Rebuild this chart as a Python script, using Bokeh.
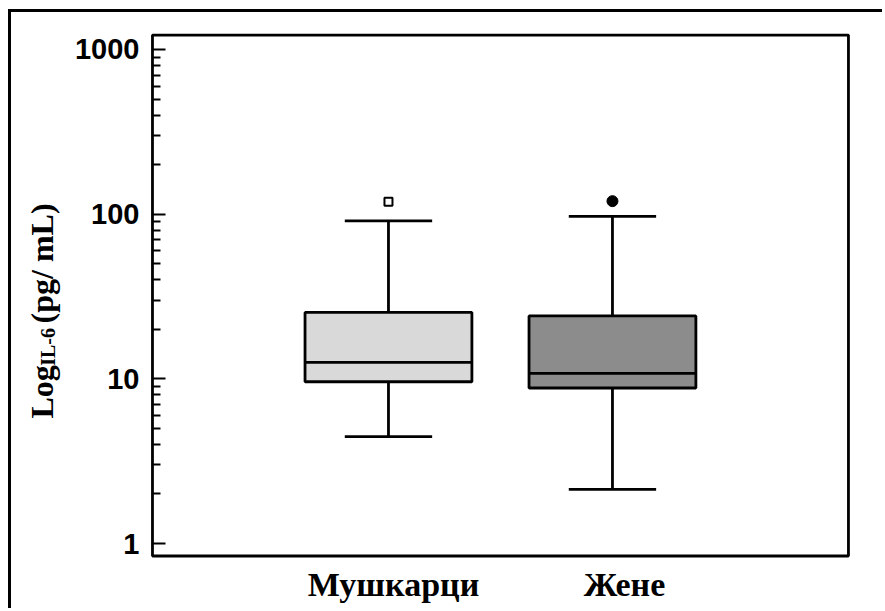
from bokeh.plotting import figure
from bokeh.models import (Range1d, FixedTicker, NumeralTickFormatter, Label,
                          ColumnDataSource, LogAxis, BoxAnnotation)
from bokeh.embed import file_html
from bokeh.resources import INLINE
import math

# ---- data ----
categories = ["Мушкарци", "Жене"]
positions = [1, 2]
q1 = [9.6, 8.8]
median = [12.6, 10.8]
q3 = [25.3, 24.1]
whisker_low = [4.46, 2.13]
whisker_high = [91.0, 97.0]
outlier_values = [119.0, 120.0]
box_colors = ["#d9d9d9", "#8c8c8c"]
y_major_ticks = [1, 10, 100, 1000]
y_minor_ticks = [2, 3, 4, 5, 6, 7, 8, 9, 20, 30, 40, 50, 60, 70, 80, 90,
                 200, 300, 400, 500, 600, 700, 800, 900]

# ---- layout constants ----
BOX_W = 0.745
CAP_W = 0.39
LW = 2.8
# canvas extent in data units (whole canvas is the frame)
X_MIN, X_MAX = -0.683, 3.219
Y_MIN, Y_MAX = 0.3865, 1677.6
# inner plot box in data units
BX0, BX1 = -0.0536, 3.0536
BY0, BY1 = 0.8396, 1224.0

p = figure(width=874, height=599, y_axis_type="log",
           x_range=Range1d(X_MIN, X_MAX), y_range=Range1d(Y_MIN, Y_MAX),
           x_axis_location=None, y_axis_location=None,
           output_backend="svg", toolbar_location=None, min_border=0)
p.styles = {"margin-left": "8px", "margin-top": "9px",
            "border-left": "3px solid black", "border-top": "3px solid black"}
p.background_fill_color = "white"
p.border_fill_color = "white"
p.outline_line_color = None
p.grid.visible = False

# inner plot box
p.add_layout(BoxAnnotation(left=BX0, right=BX1, bottom=BY0, top=BY1,
                           fill_alpha=0, line_color="black", line_width=LW, line_alpha=1))

ax = LogAxis(fixed_location=BX0)
ax.ticker = FixedTicker(ticks=y_major_ticks, minor_ticks=y_minor_ticks)
ax.formatter = NumeralTickFormatter(format="0")
ax.axis_line_color = None
ax.major_tick_in = 13
ax.major_tick_out = 0
ax.minor_tick_in = 8
ax.minor_tick_out = 0
ax.major_tick_line_width = 2
ax.minor_tick_line_width = 2
ax.major_tick_line_color = "black"
ax.minor_tick_line_color = "black"
ax.major_label_standoff = 13
ax.major_label_text_font = "Liberation Sans"
ax.major_label_text_font_style = "bold"
ax.major_label_text_font_size = "29px"
ax.major_label_text_color = "black"
p.add_layout(ax, "left")

src = ColumnDataSource(dict(
    x=positions, q1=q1, q3=q3, med=median, lo=whisker_low, hi=whisker_high,
    color=box_colors,
    x0=[x - BOX_W / 2 for x in positions], x1=[x + BOX_W / 2 for x in positions],
    c0=[x - CAP_W / 2 for x in positions], c1=[x + CAP_W / 2 for x in positions],
))

# whisker stems
p.segment(x0="x", y0="q3", x1="x", y1="hi", source=src, line_color="black", line_width=LW)
p.segment(x0="x", y0="q1", x1="x", y1="lo", source=src, line_color="black", line_width=LW)
# caps
p.segment(x0="c0", y0="hi", x1="c1", y1="hi", source=src, line_color="black", line_width=LW)
p.segment(x0="c0", y0="lo", x1="c1", y1="lo", source=src, line_color="black", line_width=LW)
# boxes
p.vbar(x="x", width=BOX_W, bottom="q1", top="q3", source=src,
       fill_color="color", line_color="black", line_width=LW)
# medians
p.segment(x0="x0", y0="med", x1="x1", y1="med", source=src, line_color="black", line_width=LW)

# outliers
p.scatter(x=[positions[0]], y=[outlier_values[0]], marker="square", size=8,
          fill_color="white", line_color="black", line_width=2)
p.scatter(x=[positions[1]], y=[outlier_values[1]], marker="circle", size=11,
          fill_color="black", line_color="black")

# category labels
cat_offsets = [5, 12]
for xpos, txt, off in zip(positions, categories, cat_offsets):
    p.add_layout(Label(x=xpos, y=BY0, text=txt, x_offset=off, y_offset=-28,
                       text_align="center", text_baseline="alphabetic",
                       text_font="Liberation Serif", text_font_style="bold",
                       text_font_size="34px", text_color="black"))

# y-axis title: Log_{IL-6} (pg/ mL)
ang = math.pi / 2
p.add_layout(Label(x=BX0, y=5.74, text="Log", x_offset=-110, angle=ang,
                   text_align="left", text_baseline="alphabetic",
                   text_font="Liberation Serif", text_font_style="bold",
                   text_font_size="32px", text_color="black"))
p.add_layout(Label(x=BX0, y=12.0, text="IL-6", x_offset=-104, angle=ang,
                   text_align="left", text_baseline="alphabetic",
                   text_font="Liberation Serif", text_font_style="bold",
                   text_font_size="20px", text_color="black"))
p.add_layout(Label(x=BX0, y=21.7, text="(pg/ mL)", x_offset=-110, angle=ang,
                   text_align="left", text_baseline="alphabetic",
                   text_font="Liberation Serif", text_font_style="bold",
                   text_font_size="32px", text_color="black"))

open("out.html", "w").write(file_html(p, INLINE))
